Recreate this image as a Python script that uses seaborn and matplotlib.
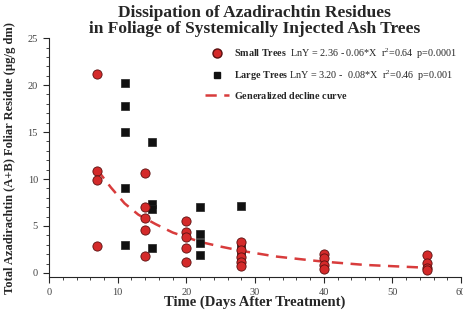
import matplotlib
matplotlib.use("Agg")
import matplotlib.pyplot as plt
import seaborn as sns
import pandas as pd
from matplotlib.lines import Line2D

# data
small_days = [7, 7, 7, 7, 14, 14, 14, 14, 14, 20, 20, 20, 20, 20,
              28, 28, 28, 28, 28, 40, 40, 40, 40, 55, 55, 55, 55]
small_resid = [21.2, 10.8, 9.9, 2.9, 10.6, 7.0, 5.9, 4.6, 1.8, 5.5, 4.4, 3.8, 2.6, 1.2,
               3.3, 2.4, 1.7, 1.2, 0.7, 2.0, 1.6, 0.8, 0.4, 1.9, 1.1, 0.5, 0.3]
large_days = [11, 11, 11, 11, 11, 15, 15, 15, 15, 22, 22, 22, 22, 28, 28, 28, 28]
large_resid = [20.2, 17.8, 15.0, 9.0, 3.0, 13.9, 7.3, 6.8, 2.6, 7.0, 4.1, 3.2, 1.9,
               7.1, 3.0, 2.2, 1.4]
curve_days = [7, 9, 11, 13, 15.5, 18, 20, 22, 25, 28, 33, 38, 40, 46, 55]
curve_resid = [11.0, 9.1, 7.4, 6.2, 5.2, 4.3, 3.8, 3.3, 2.8, 2.35, 1.75, 1.35, 1.2, 0.85, 0.55]

small_label = r"$\mathbf{Small\ Trees}$  LnY = 2.36 - 0.06*X  r$^2$=0.64  p=0.0001"
large_label = r"$\mathbf{Large\ Trees}$ LnY = 3.20 -  0.08*X  r$^2$=0.46  p=0.001"
curve_label = r"$\mathbf{Generalized\ decline\ curve}$"

sns.set_style("ticks")
plt.rcParams["font.family"] = ["Liberation Serif", "DejaVu Serif"]
plt.rcParams["mathtext.fontset"] = "custom"
plt.rcParams["mathtext.rm"] = "Liberation Serif"
plt.rcParams["mathtext.bf"] = "Liberation Serif:bold"
plt.rcParams["mathtext.it"] = "Liberation Serif:italic"

red = "#d42a2a"
small = pd.DataFrame({"days": small_days, "resid": small_resid})
large = pd.DataFrame({"days": large_days, "resid": large_resid})
curve = pd.DataFrame({"days": curve_days, "resid": curve_resid})

fig = plt.figure(figsize=(4.63, 3.10), dpi=100)
ax = fig.add_axes([0.106, 0.106, 0.89, 0.771])

sns.lineplot(data=curve, x="days", y="resid", ax=ax, color="#d83c3c", lw=1.8,
             dashes=False, zorder=2)
ax.lines[-1].set_dashes([4.5, 3])
sns.scatterplot(data=large, x="days", y="resid", ax=ax, marker="s", s=30,
                color="#111111", edgecolor="#222222", linewidth=0.5, zorder=3)
sns.scatterplot(data=small, x="days", y="resid", ax=ax, marker="o", s=44,
                color=red, edgecolor="#5a1010", linewidth=0.6, zorder=4)

ax.set_xlim(0, 60)
ax.set_ylim(-0.45, 25)
ax.set_xticks(range(0, 61, 10))
ax.set_yticks(range(0, 26, 5))
ax.set_xticks(range(0, 61, 2), minor=True)
ax.set_yticks(range(0, 26, 1), minor=True)
ax.tick_params(which="major", length=4, width=0.8, labelsize=7.5, labelcolor="#444444", pad=4)
ax.tick_params(which="minor", length=2, width=0.6)
for s in ["top", "right"]:
    ax.spines[s].set_visible(False)

ax.set_xlabel("Time (Days After Treatment)", fontsize=10.5, fontweight="bold", labelpad=-1)
ax.set_ylabel(u"Total Azadirachtin (A+B) Foliar Residue (\u00b5g/g dm)",
              fontsize=9, fontweight="bold", labelpad=8)
fig.text(0.55, 0.985, "Dissipation of Azadirachtin Residues\nin Foliage of Systemically Injected Ash Trees",
         ha="center", va="top", fontsize=12.5, fontweight="bold", linespacing=1.05)

handles = [
    Line2D([], [], marker="o", ls="none", color=red, markeredgecolor="#5a1010", markersize=6.5),
    Line2D([], [], marker="s", ls="none", color="#111111", markersize=4.5),
    Line2D([], [], color="#d83c3c", lw=1.8, dashes=[4.5, 3]),
]
ax.legend(handles, [small_label, large_label, curve_label], loc="upper right",
          bbox_to_anchor=(1.005, 0.99), frameon=False, fontsize=7.3, handlelength=2.4,
          labelspacing=0.7, handletextpad=0.5, borderaxespad=0.2)

fig.savefig("out.png", dpi=100)
